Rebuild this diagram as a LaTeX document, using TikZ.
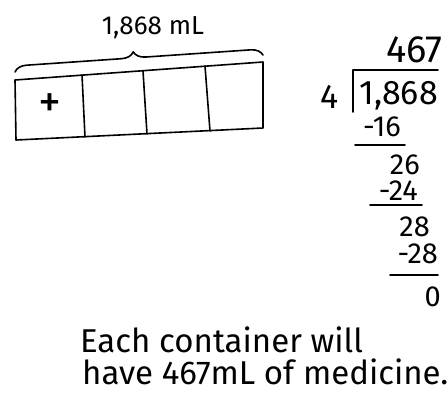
\documentclass[tikz,border=0pt]{standalone}
\usepackage{fontspec}
\setmainfont{Fira Sans}
\usetikzlibrary{decorations.pathreplacing}
\tikzset{
  pen/.style={line width=1.6pt, line cap=round, line join=round},
  digits/.style={inner sep=0pt, font=\fontsize{29}{30}\selectfont},
  bigdigits/.style={inner sep=0pt, font=\fontsize{34}{36}\selectfont},
  words/.style={inner sep=0pt, anchor=west, font=\fontsize{33}{34}\selectfont},
  bracetop/.style={pen, decorate, decoration={brace, amplitude=12pt, aspect=0.48}}
}
\begin{document}
\begin{tikzpicture}[x=1pt, y=-1pt]
  \useasboundingbox (0,0) rectangle (447,392);
  % tape with four parts
  \coordinate (tl) at (15,80);
  \coordinate (tr) at (263,62);
  \coordinate (br) at (263,128);
  \coordinate (bl) at (16,140);
  \draw[pen] (tl) -- (tr) -- (br) -- (bl) -- cycle;
  \coordinate (d1t) at (82,75);
  \coordinate (d1b) at (85,137);
  \coordinate (d2t) at (143,71);
  \coordinate (d2b) at (147,134);
  \coordinate (d3t) at (205,66);
  \coordinate (d3b) at (210,131);
  \draw[pen] (d1t) -- (d1b);
  \draw[pen] (d2t) -- (d2b);
  \draw[pen] (d3t) -- (d3b);
  \node[inner sep=0pt, font=\fontsize{46}{48}\selectfont] (plus) at (50,106) {+};
  % brace and total
  \coordinate (bra) at (15,72);
  \coordinate (brb) at (263,55);
  \draw[bracetop] (bra) -- (brb);
  \node[inner sep=0pt, font=\fontsize{26}{28}\selectfont] (total) at (153,28) {1,868 mL};

  % long division
  \node[bigdigits, anchor=east, font=\fontsize{38}{40}\selectfont] (quot) at (443,50) {467};
  \node[bigdigits] (divisor) at (330,97) {4};
  \node[bigdigits, anchor=east] (dividend) at (438,96) {1,868};
  \coordinate (barl) at (353,70);
  \coordinate (barr) at (438,70);
  \coordinate (barb) at (353,112);
  \draw[pen] (barb) -- (barl) -- (barr);
  \node[digits, anchor=east] (sub1) at (401,127) {-16};
  \coordinate (u1l) at (355,145);
  \coordinate (u1r) at (405,145);
  \draw[pen] (u1l) -- (u1r);
  \node[digits, anchor=east] (rem1) at (420,165) {26};
  \node[digits, anchor=east] (sub2) at (418,191) {-24};
  \coordinate (u2l) at (370,205);
  \coordinate (u2r) at (422,205);
  \draw[pen] (u2l) -- (u2r);
  \node[digits, anchor=east] (rem2) at (430,227) {28};
  \node[digits, anchor=east] (sub3) at (438,254) {-28};
  \coordinate (u3l) at (390,275);
  \coordinate (u3r) at (438,275);
  \draw[pen] (u3l) -- (u3r);
  \node[digits, anchor=east] (rem3) at (441,297) {0};

  % answer sentence
  \node[words] (line1) at (80,340) {Each container will};
  \node[words] (line2) at (82,372) {have 467mL of medicine.};
\end{tikzpicture}
\end{document}
